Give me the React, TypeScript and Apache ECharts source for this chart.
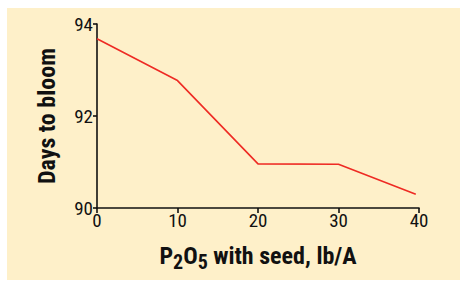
import React, { useEffect, useRef } from "react";
import * as echarts from "echarts";

const xValues = [0, 10, 20, 30, 39.6];
const daysToBloom = [93.68, 92.77, 90.96, 90.95, 90.3];
const xTicks = [0, 10, 20, 30, 40];
const yTicks = [90, 92, 94];

const FONT = '"Roboto Condensed", "Liberation Sans", sans-serif';

export default function App() {
  const ref = useRef<HTMLDivElement>(null);
  useEffect(() => {
    if (!ref.current) return;
    const chart = echarts.init(ref.current, undefined, { renderer: "svg" });
    chart.setOption({
      animation: false,
      backgroundColor: "#ffffff",
      graphic: [
        {
          type: "rect",
          z: -10,
          shape: { x: 7, y: 8, width: 453, height: 272 },
          style: { fill: "#FEF0C9" },
          silent: true,
        },
      ],
      grid: { left: 97, right: 41, top: 24, bottom: 73, containLabel: false },
      xAxis: {
        type: "value",
        min: xTicks[0],
        max: xTicks[xTicks.length - 1],
        interval: 10,
        name: "{n|P}{s|2}{n|O}{s|5}{n| with seed, lb/A}",
        nameLocation: "middle",
        nameGap: 32,
        nameTextStyle: {
          rich: {
            n: { fontFamily: FONT, fontWeight: "bold", fontSize: 24, color: "#111", lineHeight: 32, verticalAlign: "middle" },
            s: { fontFamily: FONT, fontWeight: "bold", fontSize: 20, color: "#111", lineHeight: 20, verticalAlign: "bottom" },
          },
        },
        axisLine: { show: true, onZero: false, lineStyle: { color: "#111", width: 1.6 } },
        axisTick: { show: true, length: 5, lineStyle: { color: "#111", width: 1.6 } },
        axisLabel: { fontFamily: FONT, fontSize: 19, color: "#111", margin: 3 },
        splitLine: { show: false },
      },
      yAxis: {
        type: "value",
        min: yTicks[0],
        max: yTicks[yTicks.length - 1],
        interval: 2,
        name: "Days to bloom",
        nameLocation: "middle",
        nameGap: 38,
        nameTextStyle: { fontFamily: FONT, fontWeight: "bold", fontSize: 24, color: "#111" },
        axisLine: { show: true, lineStyle: { color: "#111", width: 1.6 } },
        axisTick: { show: true, length: 4, lineStyle: { color: "#111", width: 1.6 } },
        axisLabel: { fontFamily: FONT, fontSize: 19, color: "#111", margin: 4 },
        splitLine: { show: false },
      },
      series: [
        {
          type: "line",
          data: xValues.map((x, i) => [x, daysToBloom[i]]),
          symbol: "none",
          lineStyle: { color: "#EE2B24", width: 1.6 },
        },
      ],
    });
    return () => chart.dispose();
  }, []);
  return <div ref={ref} style={{ width: 460, height: 281, position: "absolute", left: 0, top: 0 }} />;
}
